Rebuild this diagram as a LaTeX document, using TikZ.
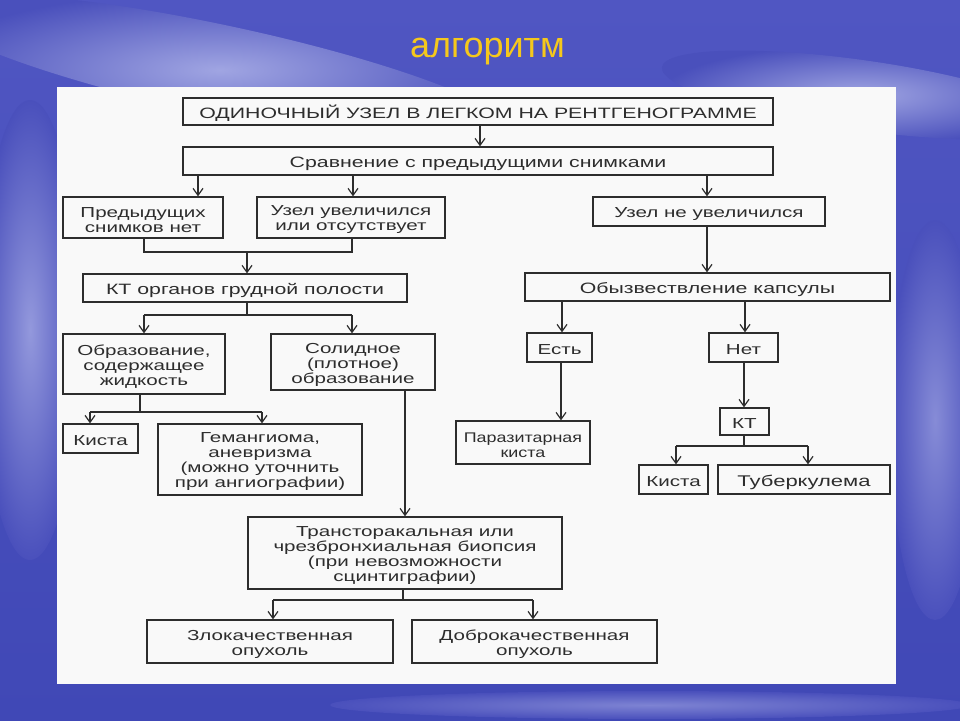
\documentclass[tikz,border=0pt]{standalone}
\usepackage{fontspec}
\setmainfont{Liberation Sans}
\newfontfamily\boxfont[FakeStretch=1.42]{Liberation Sans}
\newfontfamily\boxfontn[FakeStretch=1.28]{Liberation Sans}
\usetikzlibrary{arrows.meta,shadings}
\definecolor{skytop}{RGB}{80,86,194}
\definecolor{skybot}{RGB}{64,72,182}
\definecolor{sky}{RGB}{74,80,188}
\definecolor{cloud}{RGB}{160,165,226}
\definecolor{titlecol}{RGB}{245,200,28}
\definecolor{ink}{RGB}{45,45,45}
\definecolor{paper}{RGB}{249,249,249}
% #1 text options, #2 name, #3 left, #4 right, #5 top, #6 bottom, #7 text
\newcommand\mybox[7][]{%
  \node[frame, minimum width={(#4-#3)*1pt}, minimum height={(#6-#5)*1pt}] (#2) at ({(#3+#4)/2},{(#5+#6)/2}) {};
  \node[txt, #1] (#2t) at ([yshift=-2.5pt]#2.center) {#7};}
\newcommand\varr[3]{\coordinate (tmpx) at (#3,0); \draw[arr] (#1.south -| tmpx) -- (#2.north -| tmpx);}
\begin{document}
\begin{tikzpicture}[x=1pt,y=-1pt,
  frame/.style={draw=ink, line width=1.3pt, inner sep=0pt},
  txt/.style={align=center, inner sep=0pt, text=ink,
    font=\boxfont\fontsize{14.5}{15}\selectfont},
  arr/.style={draw=ink, line width=1.2pt, -{Straight Barb[length=7pt,width=10pt,line width=1.2pt]}},
  ln/.style={draw=ink, line width=1.2pt}]
\useasboundingbox (0,0) rectangle (960,720);
% sky
\shade[top color=skytop, bottom color=skybot] (0,0) rectangle (960,720);
\shade[inner color=cloud, outer color=sky, rotate around={-12:(220,70)}] (220,70) ellipse [x radius=300, y radius=45];
\shade[inner color=cloud, outer color=sky, rotate around={-8:(860,95)}] (860,95) ellipse [x radius=200, y radius=35];
\shade[inner color=cloud!85!sky, outer color=sky] (30,330) ellipse [x radius=50, y radius=230];
\shade[inner color=cloud!70!sky, outer color=sky] (935,420) ellipse [x radius=45, y radius=200];
\shade[inner color=cloud!60!sky, outer color=sky] (650,705) ellipse [x radius=320, y radius=14];
% title
\node[font=\fontsize{36}{40}\selectfont, text=titlecol, anchor=base, inner sep=0pt] (title) at (487.5,57) {алгоритм};
% paper
\fill[paper] (57,87) rectangle (896,684);
% boxes
\mybox[yshift=1.2pt, font=\boxfont\fontsize{15}{15}\selectfont]{b1}{183}{773}{98}{125}{ОДИНОЧНЫЙ УЗЕЛ В ЛЕГКОМ НА РЕНТГЕНОГРАММЕ}
\mybox[font=\boxfont\fontsize{15}{15}\selectfont]{b2}{183}{773}{147}{175}{Сравнение с предыдущими снимками}
\mybox{b3}{63}{223}{197}{238}{Предыдущих\\снимков нет}
\mybox{b4}{257}{445}{197}{238}{Узел увеличился\\или отсутствует}
\mybox{b5}{593}{825}{197}{226}{Узел не увеличился}
\mybox[font=\boxfont\fontsize{15}{15}\selectfont]{b6}{83}{407}{274}{302}{КТ органов грудной полости}
\mybox[font=\boxfont\fontsize{15}{15}\selectfont]{b7}{525}{890}{273}{301}{Обызвествление капсулы}
\mybox{b8}{63}{225}{334}{394}{Образование,\\содержащее\\жидкость}
\mybox{b9}{271}{435}{334}{390}{Солидное\\(плотное)\\образование}
\mybox{b10}{527}{592}{333}{362}{Есть}
\mybox{b11}{709}{778}{333}{362}{Нет}
\mybox{b12}{63}{138}{424}{453}{Киста}
\mybox{b13}{158}{362}{424}{495}{Гемангиома,\\аневризма\\(можно уточнить\\при ангиографии)}
\mybox[font=\boxfontn\fontsize{14}{15}\selectfont]{b14}{456}{590}{421}{464}{Паразитарная\\киста}
\mybox{b15}{720}{769}{408}{435}{КТ}
\mybox{b16}{639}{708}{465}{494}{Киста}
\mybox[font=\boxfont\fontsize{15.5}{15}\selectfont]{b17}{718}{890}{465}{494}{Туберкулема}
\mybox{b18}{248}{562}{517}{589}{Трансторакальная или\\чрезбронхиальная биопсия\\(при невозможности\\сцинтиграфии)}
\mybox{b19}{147}{393}{620}{663}{Злокачественная\\опухоль}
\mybox{b20}{412}{657}{620}{663}{Доброкачественная\\опухоль}
% straight arrows
\varr{b1}{b2}{480}
\varr{b2}{b3}{198}
\varr{b2}{b4}{353}
\varr{b2}{b5}{707}
\varr{b5}{b7}{707}
\varr{b7}{b10}{562}
\varr{b7}{b11}{745}
\varr{b9}{b18}{405}
\varr{b10}{b14}{561}
\varr{b11}{b15}{744}
% merge b3,b4 -> b6
\coordinate (j3) at (144,252); \coordinate (j4) at (352,252); \coordinate (j6) at (247,252);
\draw[ln] (b3.south -| j3) -- (j3) -- (j4) -- (b4.south -| j4);
\draw[arr] (j6) -- (b6.north -| j6);
% split b6 -> b8,b9
\coordinate (k0) at (247,315); \coordinate (k1) at (144,315); \coordinate (k2) at (352,315);
\draw[ln] (b6.south -| k0) -- (k0);
\draw[ln] (k1) -- (k2);
\draw[arr] (k1) -- (b8.north -| k1);
\draw[arr] (k2) -- (b9.north -| k2);
% split b8 -> b12,b13
\coordinate (m0) at (140,412); \coordinate (m1) at (90,412); \coordinate (m2) at (262,412);
\draw[ln] (b8.south -| m0) -- (m0);
\draw[ln] (m1) -- (m2);
\draw[arr] (m1) -- (b12.north -| m1);
\draw[arr] (m2) -- (b13.north -| m2);
% split b15 -> b16,b17
\coordinate (n0) at (744,446); \coordinate (n1) at (676,446); \coordinate (n2) at (808,446);
\draw[ln] (b15.south -| n0) -- (n0);
\draw[ln] (n1) -- (n2);
\draw[arr] (n1) -- (b16.north -| n1);
\draw[arr] (n2) -- (b17.north -| n2);
% split b18 -> b19,b20
\coordinate (p0) at (403,600); \coordinate (p1) at (273,600); \coordinate (p2) at (533,600);
\draw[ln] (b18.south -| p0) -- (p0);
\draw[ln] (p1) -- (p2);
\draw[arr] (p1) -- (b19.north -| p1);
\draw[arr] (p2) -- (b20.north -| p2);
\end{tikzpicture}
\end{document}
